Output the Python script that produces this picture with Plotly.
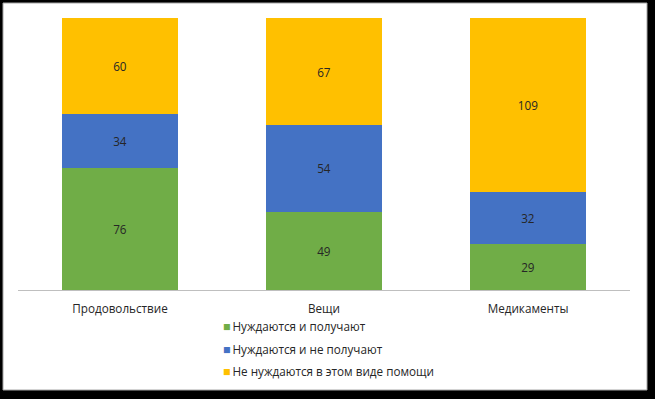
import plotly.graph_objects as go

categories = ["Продовольствие", "Вещи", "Медикаменты"]
series_names = ["Нуждаются и получают", "Нуждаются и не получают", "Не нуждаются в этом виде помощи"]
need_and_get = [76, 49, 29]
need_not_get = [34, 54, 32]
not_needed = [60, 67, 109]
colors = ["#70AD47", "#4472C4", "#FFC000"]

W, H = 655, 399
L, R, T, B = 18, 25, 18, 109
pw, ph = W - L - R, H - T - B
FONT = "Open Sans"
FS = 11.7

def px_x(x):
    return (x - L) / pw

def px_y(y):
    return (H - B - y) / ph

fig = go.Figure()
for name, vals, col in zip(series_names, [need_and_get, need_not_get, not_needed], colors):
    fig.add_trace(go.Bar(
        x=categories, y=vals, name=name,
        marker=dict(color=col, line=dict(width=0)),
        text=vals, textposition="inside", insidetextanchor="middle",
        textfont=dict(color="#262626", size=FS, family=FONT),
        textangle=0, showlegend=False,
    ))

# legend drawn as text entries (colored square + series name)
legend_rows_y = [326, 349, 371]
annotations = []
for name, col, yy in zip(series_names, colors, legend_rows_y):
    annotations.append(dict(
        xref="paper", yref="paper", x=px_x(221), y=px_y(yy),
        xanchor="left", yanchor="middle", showarrow=False,
        text=f"<span style='color:{col};font-size:12.5px'>■</span>\u2009{name}",
        font=dict(family=FONT, size=FS, color="#262626"),
    ))

fig.update_layout(
    width=W, height=H,
    margin=dict(l=L, r=R, t=T, b=B),
    barmode="stack", bargap=0.43,
    paper_bgcolor="black", plot_bgcolor="rgba(0,0,0,0)",
    font=dict(family=FONT, size=FS, color="#404040"),
    uniformtext=dict(mode="show", minsize=FS),
    showlegend=False,
    xaxis=dict(showline=True, linecolor="#BFBFBF", linewidth=1, ticks="",
               ticklabelstandoff=8,
               tickfont=dict(size=FS, color="#262626", family=FONT),
               showgrid=False, zeroline=False),
    yaxis=dict(range=[0, 170], showticklabels=False, showgrid=False, zeroline=False,
               showline=False, ticks=""),
    annotations=annotations,
    shapes=[dict(type="rect", xref="paper", yref="paper", layer="below",
                 x0=px_x(3), x1=px_x(647), y0=px_y(390), y1=px_y(3),
                 fillcolor="white", line=dict(color="#A6A6A6", width=1))],
)

fig.write_html("out.html", config={"displayModeBar": False},
               post_script="document.body.style.margin='0';document.body.style.background='black';")
